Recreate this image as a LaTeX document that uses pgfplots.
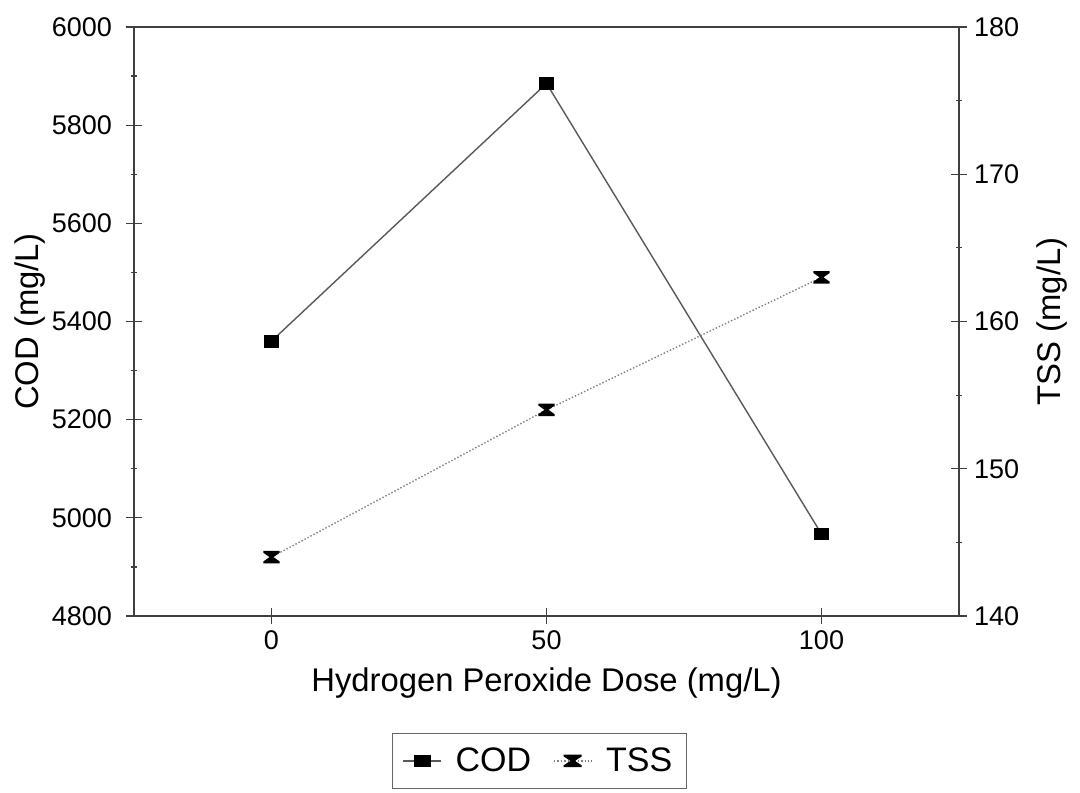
\documentclass[border=0pt]{standalone}
\usepackage{pgfplots}
\pgfplotsset{compat=1.18}
\usepackage{fontspec}
\setmainfont{Liberation Sans}
\pgfdeclareplotmark{rectmark}{%
  \pgfpathrectangle{\pgfpoint{-3.9pt}{-3.2pt}}{\pgfpoint{7.8pt}{6.4pt}}%
  \pgfusepathqfill}
\pgfdeclareplotmark{hourglass}{%
  \pgfpathmoveto{\pgfpoint{-4.1pt}{3.1pt}}%
  \pgfpathlineto{\pgfpoint{4.1pt}{3.1pt}}%
  \pgfpathlineto{\pgfpoint{4.1pt}{2.2pt}}%
  \pgfpathlineto{\pgfpoint{1.0pt}{0pt}}%
  \pgfpathlineto{\pgfpoint{4.1pt}{-2.2pt}}%
  \pgfpathlineto{\pgfpoint{4.1pt}{-3.1pt}}%
  \pgfpathlineto{\pgfpoint{-4.1pt}{-3.1pt}}%
  \pgfpathlineto{\pgfpoint{-4.1pt}{-2.2pt}}%
  \pgfpathlineto{\pgfpoint{-1.0pt}{0pt}}%
  \pgfpathlineto{\pgfpoint{-4.1pt}{2.2pt}}%
  \pgfpathclose\pgfusepathqfill}
\pgfplotsset{
  common/.style={
    width=412.5pt, height=294.5pt, scale only axis,
    at={(0,0)}, anchor=south west,
    xmin=-25, xmax=125,
    tick align=center, major tick length=8pt, minor tick length=3pt,
    every tick/.style={black!75, line width=0.6pt},
    axis line style={black!75, line width=0.6pt},
    tick label style={font=\fontsize{13.5}{16}\selectfont},
    label style={font=\fontsize{16.4}{19}\selectfont},
    /pgf/number format/assume math mode=true,
    /pgf/number format/set thousands separator={},
  },
  codstyle/.style={color=black!65, line width=0.7pt, mark=rectmark, mark options={black, solid}},
  tssstyle/.style={color=black!50, line width=0.7pt, densely dotted, mark=hourglass, mark options={black, solid}},
}
\begin{document}
\begin{tikzpicture}
\useasboundingbox (-67pt,-88pt) rectangle (473pt,308pt);
\begin{axis}[common,
  ymin=4800, ymax=6000,
  ytick={4800,5000,5200,5400,5600,5800,6000},
  minor y tick num=1,
  xtick={0,50,100},
  xtick pos=bottom, ytick pos=left,
  yticklabel style={xshift=-3.5pt},
  xlabel={Hydrogen Peroxide Dose (mg/L)},
  ylabel={COD (mg/L)},
  xlabel style={at={(axis description cs:0.5,-0.1138)}, anchor=center},
  ylabel style={at={(axis description cs:-0.126,0.5)}, anchor=center, rotate=0},
]
\addplot[codstyle] coordinates {(0,5360) (50,5885) (100,4967)};
\end{axis}
\begin{axis}[common,
  ymin=140, ymax=180,
  ytick={140,150,160,170,180},
  minor y tick num=1,
  axis x line=none,
  axis y line*=right,
  ylabel={TSS (mg/L)},
  ylabel style={at={(axis description cs:1.1127,0.5)}, anchor=center, rotate=0},
  legend style={at={(axis description cs:0.4915,-0.246)}, anchor=center,
    legend columns=2, draw=black!60, line width=0.5pt,
    font=\fontsize{17}{20}\selectfont,
    inner xsep=5pt, inner ysep=5pt,
    /tikz/every odd column/.append style={column sep=5pt},
    /tikz/every even column/.append style={column sep=9pt}},
  legend image post style={xscale=1.1},
]
\addlegendimage{codstyle}
\addlegendentry{COD}
\addplot[tssstyle] coordinates {(0,144) (50,154) (100,163)};
\addlegendentry{TSS}
\end{axis}
\end{tikzpicture}
\end{document}
